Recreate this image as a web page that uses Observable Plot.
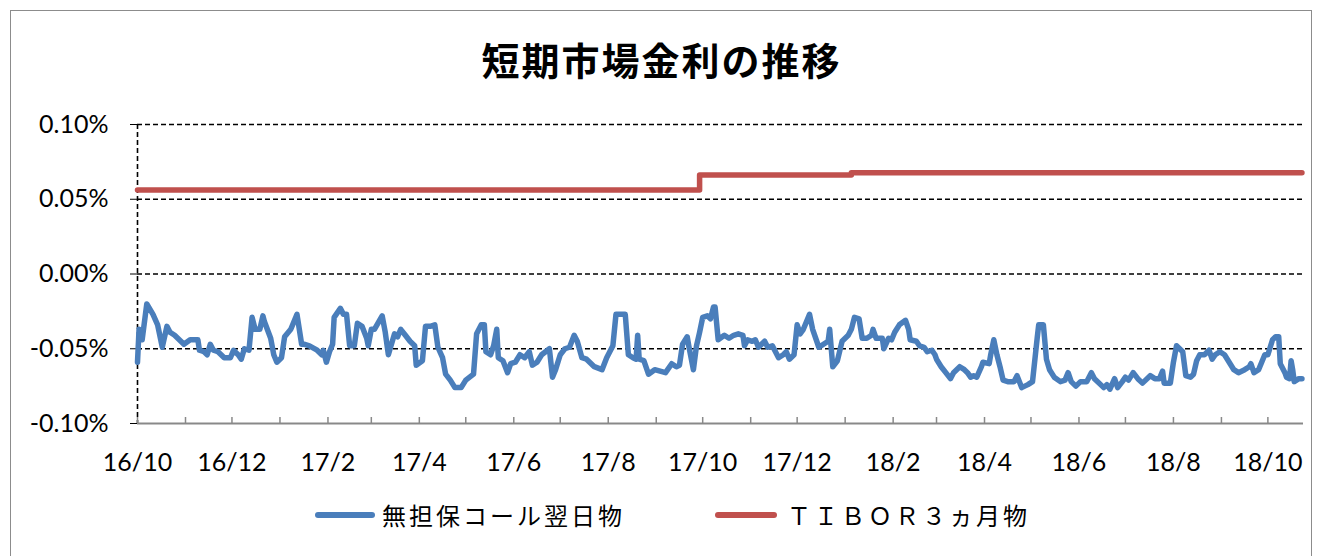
<!DOCTYPE html>
<html><head><meta charset="utf-8">
<script src="https://cdn.jsdelivr.net/npm/d3@7"></script>
<script src="https://cdn.jsdelivr.net/npm/@observablehq/plot@0.6"></script>
<style>
body{margin:0;background:#fff;}
#wrap{position:relative;width:1323px;height:556px;overflow:hidden;background:#fff;}
#frame{position:absolute;left:10px;top:10px;width:1302px;height:600px;border:1px solid #8c8c8c;box-sizing:border-box;}
#chart{position:absolute;left:0;top:0;}
#title{position:absolute;left:0;width:1323px;top:34px;text-align:center;font-family:"Noto Sans CJK JP";font-weight:bold;font-size:38px;letter-spacing:2px;line-height:50px;}
.sw{position:absolute;height:6px;border-radius:3px;top:512px;}
.lt{position:absolute;top:500px;font-family:"Noto Sans CJK JP";font-size:24px;line-height:30px;letter-spacing:3px;white-space:nowrap;}
</style></head>
<body><div id="wrap"><div id="frame"></div><div id="chart"></div><div id="title"></div>
<div class="sw" id="sw1" style="left:315px;width:60px;"></div><div class="lt" id="lt1" style="left:382px;"></div>
<div class="sw" id="sw2" style="left:715px;width:62px;"></div><div class="lt" id="lt2" style="left:787px;"></div>
</div>
<script>
const titleText = "短期市場金利の推移";
const seriesNames = ["無担保コール翌日物", "ＴＩＢＯＲ３ヵ月物"];
const seriesColors = ["#4a7ebb", "#c0504d"];
const yTicks = [-0.10, -0.05, 0.00, 0.05, 0.10];
const xStart = "2016-10-01", xEnd = "2018-10-24";

const call2016 = [
["2016-10-01",-0.059],["2016-10-02",-0.037],["2016-10-04",-0.044],["2016-10-07",-0.020],["2016-10-11",-0.027],["2016-10-14",-0.034],["2016-10-17",-0.049],["2016-10-20",-0.035],["2016-10-22",-0.039],["2016-10-25",-0.041],["2016-10-31",-0.047],
["2016-11-04",-0.044],["2016-11-09",-0.044],["2016-11-10",-0.051],["2016-11-13",-0.052],["2016-11-15",-0.054],["2016-11-17",-0.047],["2016-11-19",-0.051],["2016-11-22",-0.052],["2016-11-26",-0.056],["2016-11-30",-0.056],
["2016-12-02",-0.051],["2016-12-05",-0.054],["2016-12-07",-0.057],["2016-12-09",-0.050],["2016-12-12",-0.051],["2016-12-14",-0.029],["2016-12-16",-0.037],["2016-12-19",-0.037],["2016-12-21",-0.028],["2016-12-22",-0.032],["2016-12-26",-0.043],["2016-12-28",-0.054],["2016-12-30",-0.059]
];
const call2017 = [
["2017-01-02",-0.056],["2017-01-04",-0.042],["2017-01-08",-0.037],["2017-01-12",-0.027],["2017-01-15",-0.047],["2017-01-17",-0.047],["2017-01-20",-0.048],["2017-01-25",-0.051],["2017-01-28",-0.054],["2017-01-29",-0.051],["2017-01-31",-0.059],
["2017-02-02",-0.052],["2017-02-04",-0.047],["2017-02-05",-0.029],["2017-02-09",-0.023],["2017-02-11",-0.027],["2017-02-13",-0.027],["2017-02-15",-0.048],["2017-02-18",-0.048],["2017-02-20",-0.033],["2017-02-23",-0.035],["2017-02-26",-0.043],["2017-02-27",-0.048],
["2017-03-01",-0.037],["2017-03-03",-0.037],["2017-03-08",-0.028],["2017-03-10",-0.039],["2017-03-12",-0.054],["2017-03-16",-0.040],["2017-03-18",-0.042],["2017-03-20",-0.037],["2017-03-23",-0.041],["2017-03-26",-0.045],["2017-03-29",-0.048],["2017-03-30",-0.061],
["2017-04-03",-0.058],["2017-04-05",-0.035],["2017-04-08",-0.035],["2017-04-11",-0.034],["2017-04-13",-0.049],["2017-04-16",-0.056],["2017-04-18",-0.067],["2017-04-21",-0.071],["2017-04-24",-0.076],["2017-04-28",-0.076],
["2017-05-01",-0.071],["2017-05-06",-0.067],["2017-05-08",-0.040],["2017-05-11",-0.034],["2017-05-13",-0.034],["2017-05-14",-0.052],["2017-05-17",-0.054],["2017-05-19",-0.048],["2017-05-21",-0.037],["2017-05-22",-0.056],["2017-05-25",-0.058],["2017-05-28",-0.066],["2017-05-30",-0.060],
["2017-06-02",-0.059],["2017-06-05",-0.054],["2017-06-08",-0.056],["2017-06-11",-0.052],["2017-06-13",-0.061],["2017-06-16",-0.059],["2017-06-19",-0.054],["2017-06-24",-0.050],["2017-06-26",-0.069],["2017-06-28",-0.064],
["2017-07-01",-0.054],["2017-07-04",-0.050],["2017-07-07",-0.049],["2017-07-10",-0.041],["2017-07-12",-0.045],["2017-07-15",-0.056],["2017-07-18",-0.057],["2017-07-23",-0.062],["2017-07-28",-0.064],["2017-07-31",-0.056],
["2017-08-04",-0.048],["2017-08-06",-0.027],["2017-08-10",-0.027],["2017-08-12",-0.027],["2017-08-14",-0.054],["2017-08-17",-0.056],["2017-08-19",-0.057],["2017-08-20",-0.041],["2017-08-21",-0.057],["2017-08-24",-0.058],["2017-08-27",-0.067],["2017-08-31",-0.064],
["2017-09-07",-0.066],["2017-09-11",-0.060],["2017-09-14",-0.062],["2017-09-16",-0.061],["2017-09-18",-0.047],["2017-09-21",-0.042],["2017-09-22",-0.048],["2017-09-25",-0.064],["2017-09-27",-0.048],["2017-09-29",-0.039],
["2017-10-01",-0.029],["2017-10-04",-0.028],["2017-10-06",-0.030],["2017-10-08",-0.022],["2017-10-09",-0.022],["2017-10-11",-0.044],["2017-10-15",-0.041],["2017-10-18",-0.043],["2017-10-21",-0.041],["2017-10-24",-0.040],["2017-10-27",-0.041],["2017-10-28",-0.048],["2017-10-30",-0.044],
["2017-11-02",-0.045],["2017-11-04",-0.044],["2017-11-06",-0.049],["2017-11-10",-0.045],["2017-11-12",-0.049],["2017-11-15",-0.048],["2017-11-19",-0.056],["2017-11-22",-0.054],["2017-11-24",-0.052],["2017-11-26",-0.057],["2017-11-29",-0.054],
["2017-12-01",-0.034],["2017-12-03",-0.040],["2017-12-05",-0.037],["2017-12-09",-0.027],["2017-12-11",-0.037],["2017-12-15",-0.049],["2017-12-18",-0.047],["2017-12-21",-0.045],["2017-12-22",-0.037],["2017-12-24",-0.062],["2017-12-27",-0.058],["2017-12-30",-0.045]
];
const call2018 = [
["2018-01-03",-0.041],["2018-01-05",-0.037],["2018-01-07",-0.029],["2018-01-10",-0.030],["2018-01-12",-0.043],["2018-01-15",-0.043],["2018-01-18",-0.041],["2018-01-19",-0.037],["2018-01-21",-0.043],["2018-01-25",-0.043],["2018-01-26",-0.050],["2018-01-29",-0.043],["2018-01-31",-0.044],
["2018-02-02",-0.039],["2018-02-05",-0.034],["2018-02-09",-0.031],["2018-02-11",-0.037],["2018-02-12",-0.044],["2018-02-16",-0.045],["2018-02-18",-0.048],["2018-02-21",-0.049],["2018-02-23",-0.052],["2018-02-26",-0.051],["2018-02-28",-0.054],
["2018-03-01",-0.057],["2018-03-04",-0.062],["2018-03-07",-0.066],["2018-03-10",-0.070],["2018-03-12",-0.066],["2018-03-16",-0.062],["2018-03-19",-0.064],["2018-03-21",-0.066],["2018-03-23",-0.069],["2018-03-25",-0.068],["2018-03-27",-0.069],["2018-03-30",-0.062],["2018-03-31",-0.059],
["2018-04-04",-0.060],["2018-04-05",-0.054],["2018-04-07",-0.044],["2018-04-09",-0.054],["2018-04-11",-0.062],["2018-04-13",-0.071],["2018-04-16",-0.072],["2018-04-20",-0.072],["2018-04-22",-0.068],["2018-04-25",-0.076],["2018-04-29",-0.074],
["2018-05-02",-0.072],["2018-05-05",-0.043],["2018-05-06",-0.034],["2018-05-09",-0.034],["2018-05-11",-0.057],["2018-05-13",-0.064],["2018-05-16",-0.069],["2018-05-20",-0.072],["2018-05-23",-0.071],["2018-05-25",-0.066],["2018-05-27",-0.072],["2018-05-30",-0.075],
["2018-06-02",-0.072],["2018-06-06",-0.072],["2018-06-09",-0.066],["2018-06-11",-0.070],["2018-06-15",-0.074],["2018-06-17",-0.076],["2018-06-19",-0.074],["2018-06-21",-0.077],["2018-06-24",-0.070],["2018-06-26",-0.076],["2018-06-29",-0.072],
["2018-07-01",-0.069],["2018-07-03",-0.071],["2018-07-06",-0.066],["2018-07-09",-0.070],["2018-07-12",-0.073],["2018-07-17",-0.068],["2018-07-20",-0.070],["2018-07-23",-0.070],["2018-07-25",-0.065],["2018-07-26",-0.073],["2018-07-30",-0.073],
["2018-08-01",-0.059],["2018-08-03",-0.048],["2018-08-07",-0.052],["2018-08-09",-0.068],["2018-08-12",-0.069],["2018-08-14",-0.067],["2018-08-16",-0.058],["2018-08-18",-0.054],["2018-08-21",-0.054],["2018-08-24",-0.051],["2018-08-26",-0.057],["2018-08-28",-0.054],["2018-08-31",-0.052],
["2018-09-03",-0.054],["2018-09-06",-0.059],["2018-09-09",-0.064],["2018-09-12",-0.066],["2018-09-16",-0.064],["2018-09-19",-0.062],["2018-09-20",-0.060],["2018-09-22",-0.066],["2018-09-25",-0.064],["2018-09-29",-0.054],
["2018-10-01",-0.054],["2018-10-04",-0.044],["2018-10-06",-0.042],["2018-10-08",-0.042],["2018-10-09",-0.060],["2018-10-12",-0.066],["2018-10-13",-0.069],["2018-10-15",-0.070],["2018-10-16",-0.058],["2018-10-17",-0.064],["2018-10-18",-0.072],["2018-10-21",-0.070],["2018-10-23",-0.070]
];
const tiborDates = ["2016-10-01", "2017-09-29", "2018-01-05", "2018-10-23"];
const tiborValues = [0.0562, 0.0662, 0.0678, 0.0678];

const callData = [...call2016, ...call2017, ...call2018].map(([d, v]) => ({date: new Date(d), value: v}));
const tiborData = tiborDates.map((d, i) => ({date: new Date(d), value: tiborValues[i]}));
const x0 = new Date(xStart), x1 = new Date(xEnd);
const monthTicks = d3.utcMonths(x0, x1);
const labelTicks = monthTicks.filter((d, i) => i % 2 === 0);
const dash = "5,3";

const chart = Plot.plot({
  width: 1323, height: 490,
  marginTop: 124, marginBottom: 67, marginLeft: 137, marginRight: 20,
  x: {type: "utc", domain: [x0, x1], label: null},
  y: {domain: [-0.1, 0.1], label: null},
  style: {fontFamily: "Lato", fontSize: "25px", color: "#000", background: "transparent"},
  marks: [
    Plot.ruleY(yTicks.filter(v => v > -0.1), {stroke: "#000", strokeWidth: 1.6, strokeDasharray: dash}),
    Plot.ruleX([x0], {stroke: "#000", strokeWidth: 1.6, strokeDasharray: dash}),
    Plot.ruleY([-0.1], {stroke: "#898989", strokeWidth: 2}),
    Plot.axisY({ticks: yTicks, tickSize: 7, tickPadding: 22, tickFormat: d => d.toFixed(2) + "%", fontSize: 25, stroke: "#000", label: null}),
    Plot.axisX({ticks: monthTicks, tickSize: 6, dy: -6, tickFormat: () => "", stroke: "#898989", strokeWidth: 1.5, label: null}),
    Plot.axisX({ticks: labelTicks, tickSize: 0, tickPadding: 30, tickFormat: d3.utcFormat("%y/%-m"), fontSize: 25, label: null}),
    Plot.line(tiborData, {x: "date", y: "value", curve: "step-after", stroke: seriesColors[1], strokeWidth: 5.5}),
    Plot.line(callData, {x: "date", y: "value", stroke: seriesColors[0], strokeWidth: 5.5, strokeLinejoin: "round"})
  ]
});
document.getElementById("chart").append(chart);
document.getElementById("title").textContent = titleText;
document.getElementById("lt1").textContent = seriesNames[0];
document.getElementById("lt2").textContent = seriesNames[1];
document.getElementById("sw1").style.background = seriesColors[0];
document.getElementById("sw2").style.background = seriesColors[1];
</script></body></html>
